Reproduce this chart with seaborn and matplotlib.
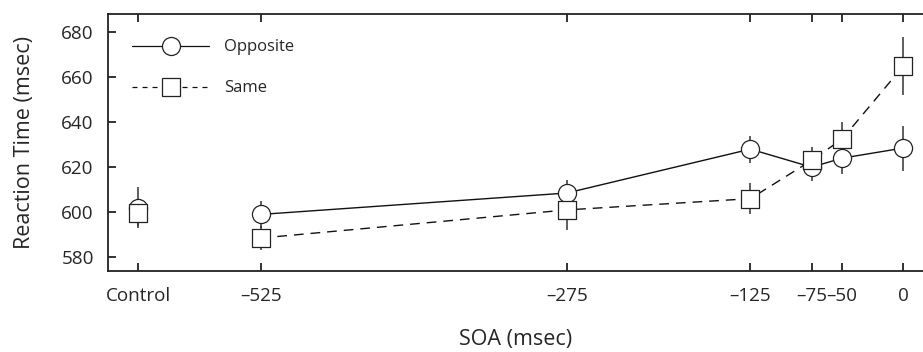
import numpy as np
import pandas as pd
import matplotlib
matplotlib.use("Agg")
import matplotlib.pyplot as plt
import seaborn as sns
from matplotlib.lines import Line2D

# --- data ---
# Control has no SOA, it is parked at -625 on the axis
soa = [-625, -525, -275, -125, -75, -50, 0]
tick_labels = ["Control", "\u2013525", "\u2013275", "\u2013125", "\u201375", "\u201350", "0"]

opposite_rt = [602, 599, 608.5, 628, 620, 624, 628.5]
opposite_err = [9, 6, 6, 6, 6, 7, 10]
same_rt = [599.5, 588.5, 601, 606, 623, 632.5, 665]
same_err = [5.5, 5.5, 9, 7, 6, 7.5, 13]

conditions = ["Opposite", "Same"]

df = pd.concat([
    pd.DataFrame({"condition": "Opposite", "soa": soa, "rt": opposite_rt, "err": opposite_err}),
    pd.DataFrame({"condition": "Same", "soa": soa, "rt": same_rt, "err": same_err}),
], ignore_index=True)

# --- style ---
sns.set_theme(style="ticks")
plt.rcParams["font.family"] = ["Open Sans", "DejaVu Sans"]
fs_tick = 13.6
fs_label = 15.5

line_style = {"Opposite": "-", "Same": (0, (7, 5))}
marker_style = {"Opposite": "o", "Same": "s"}
marker_size = {"Opposite": 170, "Same": 155}
marker_z = {"Opposite": 4, "Same": 5}

fig, ax = plt.subplots(figsize=(9.23, 3.52), dpi=100)
fig.subplots_adjust(left=0.1167, right=1.0, top=0.96, bottom=0.231)

for cond in conditions:
    sub = df[df["condition"] == cond]
    connected = sub[sub["soa"] > -600]   # control point is not joined
    sns.lineplot(data=connected, x="soa", y="rt", ax=ax, color="#111111",
                 linewidth=1.0, linestyle=line_style[cond], zorder=1,
                 errorbar=None, legend=False)
    ax.errorbar(sub["soa"], sub["rt"], yerr=sub["err"], fmt="none",
                ecolor="#333333", elinewidth=1.1, capsize=0, zorder=2)
    sns.scatterplot(data=sub, x="soa", y="rt", ax=ax, marker=marker_style[cond],
                    s=marker_size[cond], color="white", edgecolor="#222222",
                    linewidth=0.9, zorder=marker_z[cond], legend=False)

# legend with marker in the middle of the line
handles = [
    Line2D([], [], color="#111111", lw=0.9, linestyle="-", marker="o",
           markersize=13, markerfacecolor="white", markeredgecolor="#222222",
           markeredgewidth=0.9),
    Line2D([], [], color="#111111", lw=0.9, linestyle=(0, (4, 4)), marker="s",
           markersize=12.5, markerfacecolor="white", markeredgecolor="#222222",
           markeredgewidth=0.9),
]
ax.legend(handles, conditions, loc="upper left", bbox_to_anchor=(0.012, 0.96),
          frameon=False, fontsize=12, handlelength=4.6, handletextpad=0.9,
          labelspacing=1.5, numpoints=1)

ax.set_xlim(-650, 16)
ax.set_ylim(574, 688)
ax.set_xticks(soa)
ax.set_xticklabels(tick_labels)
ax.set_yticks(np.arange(580, 681, 20))

ax.set_xlabel("SOA (msec)", fontsize=fs_label, labelpad=17)
ax.set_ylabel("Reaction Time (msec)", fontsize=fs_label, labelpad=19)

ax.spines["right"].set_visible(False)
for side in ["left", "top", "bottom"]:
    ax.spines[side].set_linewidth(1.3)
    ax.spines[side].set_color("#222222")
ax.tick_params(axis="x", direction="in", top=True, bottom=True, length=6,
               width=1.3, labelsize=fs_tick, pad=12, color="#222222")
ax.tick_params(axis="y", direction="in", left=True, length=6, width=1.3,
               labelsize=fs_tick, pad=10, color="#222222")

plt.savefig("out.png", dpi=100)
